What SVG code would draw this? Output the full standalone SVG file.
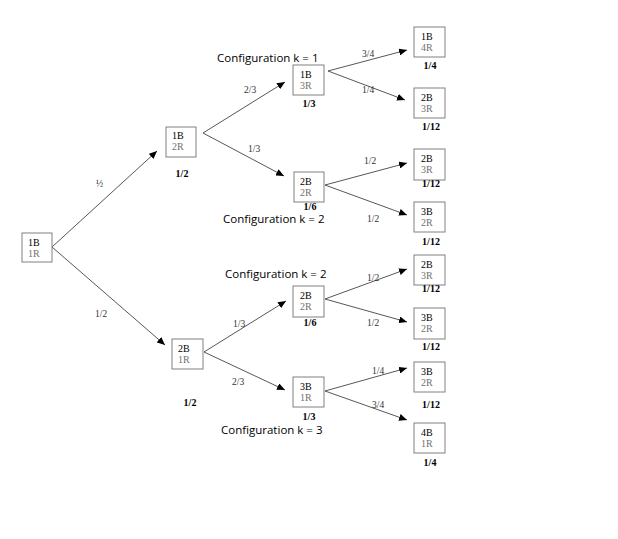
<svg xmlns="http://www.w3.org/2000/svg" width="618" height="539" viewBox="0 0 618 539">
  <style>
    .box { fill: #ffffff; stroke: #808080; stroke-width: 1; }
    .b { font-family: "Liberation Serif", serif; font-size: 10px; fill: #000; }
    .r { font-family: "Liberation Serif", serif; font-size: 10px; fill: #707070; }
    .p { font-family: "Liberation Serif", serif; font-size: 10px; font-weight: bold; fill: #000; text-anchor: middle; }
    .e { font-family: "Liberation Serif", serif; font-size: 9.5px; fill: #333; }
    .cfg { font-family: "Open Sans", "Liberation Sans", sans-serif; font-size: 11.5px; fill: #000; }
    .edge { stroke: #444; stroke-width: 0.9; fill: none; marker-end: url(#arrow); }
  </style>
  <defs>
    <marker id="arrow" markerUnits="userSpaceOnUse" markerWidth="9" markerHeight="7" refX="8" refY="3.5" orient="auto">
      <path d="M0,0 L8,3.5 L0,7 z" fill="#000"/>
    </marker>
  </defs>
  <rect width="618" height="539" fill="#ffffff"/>

  <!-- branches -->
  <g id="connectors">
    <line class="edge" x1="52" y1="247" x2="157" y2="151"/>
    <line class="edge" x1="52" y1="247" x2="165" y2="345"/>
    <line class="edge" x1="203" y1="133" x2="285" y2="82"/>
    <line class="edge" x1="203" y1="133" x2="284" y2="176"/>
    <line class="edge" x1="328" y1="71" x2="407" y2="50"/>
    <line class="edge" x1="328" y1="71" x2="405" y2="100"/>
    <line class="edge" x1="325" y1="185" x2="407" y2="163"/>
    <line class="edge" x1="325" y1="185" x2="407" y2="215"/>
    <line class="edge" x1="204" y1="352" x2="286" y2="301"/>
    <line class="edge" x1="204" y1="352" x2="285" y2="390"/>
    <line class="edge" x1="325" y1="299" x2="407" y2="269"/>
    <line class="edge" x1="325" y1="299" x2="407" y2="322"/>
    <line class="edge" x1="325" y1="391" x2="407" y2="368"/>
    <line class="edge" x1="325" y1="391" x2="407" y2="420"/>

    <text class="e" x="96" y="187">½</text>
    <text class="e" x="95" y="317">1/2</text>
    <text class="e" x="244" y="93">2/3</text>
    <text class="e" x="248" y="152">1/3</text>
    <text class="e" x="362" y="57">3/4</text>
    <text class="e" x="362" y="93">1/4</text>
    <text class="e" x="364" y="164">1/2</text>
    <text class="e" x="367" y="222">1/2</text>
    <text class="e" x="233" y="327">1/3</text>
    <text class="e" x="232" y="385">2/3</text>
    <text class="e" x="367" y="281">1/2</text>
    <text class="e" x="367" y="326">1/2</text>
    <text class="e" x="372" y="374">1/4</text>
    <text class="e" x="372" y="408">3/4</text>
  </g>

  <!-- configuration captions -->
  <text class="cfg" x="217" y="62">Configuration k = 1</text>
  <text class="cfg" x="223" y="223">Configuration k = 2</text>
  <text class="cfg" x="225" y="278">Configuration k = 2</text>
  <text class="cfg" x="221" y="434">Configuration k = 3</text>

  <g id="n0">
    <rect class="box" x="22" y="233" width="30" height="29"/>
    <text class="b" x="28" y="246">1B</text>
    <text class="r" x="28" y="257">1R</text>
  </g>

  <g id="n1">
    <rect class="box" x="166" y="127" width="30" height="30"/>
    <text class="b" x="172" y="139">1B</text>
    <text class="r" x="172" y="150">2R</text>
    <text class="p" x="182" y="177">1/2</text>
  </g>

  <g id="n2">
    <rect class="box" x="172" y="339" width="31" height="30"/>
    <text class="b" x="178" y="352">2B</text>
    <text class="r" x="178" y="363">1R</text>
    <text class="p" x="190" y="406">1/2</text>
  </g>

  <g id="n11">
    <rect class="box" x="293" y="65" width="31" height="30"/>
    <text class="b" x="300" y="78">1B</text>
    <text class="r" x="300" y="89">3R</text>
    <text class="p" x="309" y="107">1/3</text>
  </g>

  <g id="n12">
    <rect class="box" x="294" y="172" width="30" height="30"/>
    <text class="b" x="300" y="185">2B</text>
    <text class="r" x="300" y="196">2R</text>
    <text class="p" x="310" y="210">1/6</text>
  </g>

  <g id="n21">
    <rect class="box" x="293" y="286" width="31" height="31"/>
    <text class="b" x="300" y="299">2B</text>
    <text class="r" x="300" y="310">2R</text>
    <text class="p" x="310" y="326">1/6</text>
  </g>

  <g id="n22">
    <rect class="box" x="293" y="377" width="31" height="30"/>
    <text class="b" x="300" y="390">3B</text>
    <text class="r" x="300" y="401">1R</text>
    <text class="p" x="309" y="420">1/3</text>
  </g>

  <g id="n111">
    <rect class="box" x="414" y="27" width="31" height="30"/>
    <text class="b" x="421" y="40">1B</text>
    <text class="r" x="421" y="51">4R</text>
    <text class="p" x="430" y="69">1/4</text>
  </g>

  <g id="n112">
    <rect class="box" x="414" y="88" width="31" height="30"/>
    <text class="b" x="421" y="101">2B</text>
    <text class="r" x="421" y="112">3R</text>
    <text class="p" x="431" y="130">1/12</text>
  </g>

  <g id="n121">
    <rect class="box" x="414" y="149" width="31" height="31"/>
    <text class="b" x="421" y="162">2B</text>
    <text class="r" x="421" y="173">3R</text>
    <text class="p" x="431" y="187">1/12</text>
  </g>

  <g id="n122">
    <rect class="box" x="414" y="202" width="31" height="30"/>
    <text class="b" x="421" y="215">3B</text>
    <text class="r" x="421" y="226">2R</text>
    <text class="p" x="431" y="245">1/12</text>
  </g>

  <g id="n211">
    <rect class="box" x="414" y="255" width="31" height="30"/>
    <text class="b" x="421" y="268">2B</text>
    <text class="r" x="421" y="279">3R</text>
    <text class="p" x="431" y="292">1/12</text>
  </g>

  <g id="n212">
    <rect class="box" x="414" y="308" width="31" height="31"/>
    <text class="b" x="421" y="321">3B</text>
    <text class="r" x="421" y="332">2R</text>
    <text class="p" x="431" y="350">1/12</text>
  </g>

  <g id="n221">
    <rect class="box" x="414" y="362" width="31" height="30"/>
    <text class="b" x="421" y="375">3B</text>
    <text class="r" x="421" y="386">2R</text>
    <text class="p" x="431" y="408">1/12</text>
  </g>

  <g id="n222">
    <rect class="box" x="414" y="423" width="31" height="30"/>
    <text class="b" x="421" y="436">4B</text>
    <text class="r" x="421" y="447">1R</text>
    <text class="p" x="430" y="466">1/4</text>
  </g>
</svg>
